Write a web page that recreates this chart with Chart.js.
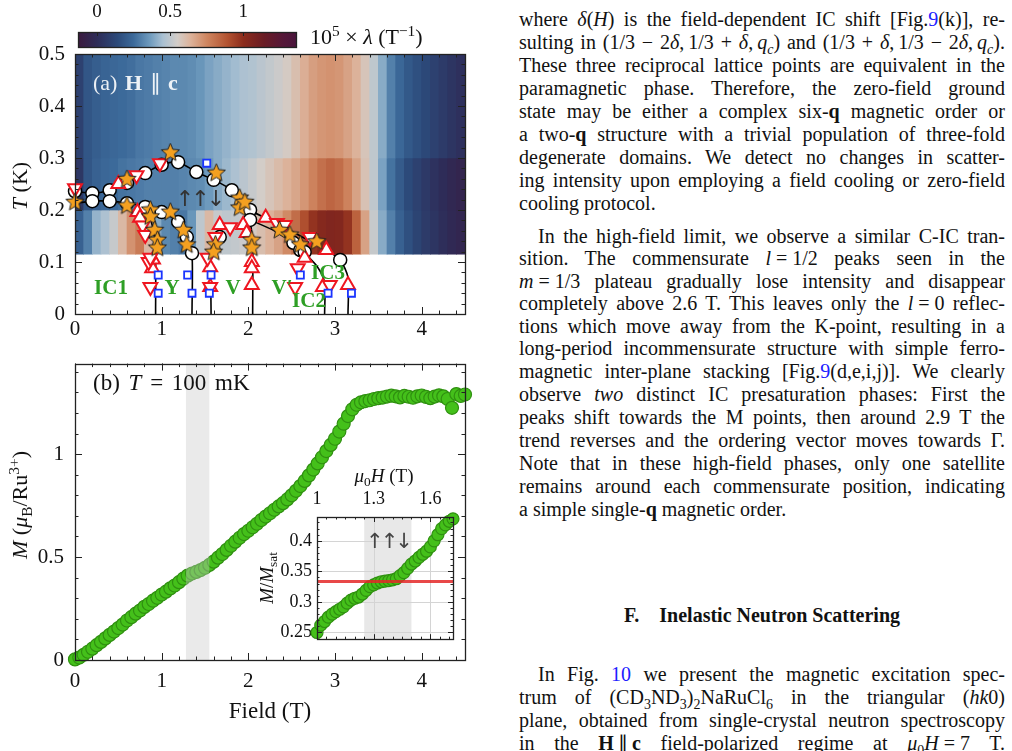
<!DOCTYPE html>
<html>
<head>
<meta charset="utf-8">
<script src="https://cdn.jsdelivr.net/npm/chart.js@4.4.1/dist/chart.umd.min.js"></script>
<style>
body { margin: 0; background: #fff; }
#page { position: relative; width: 1012px; height: 751px; overflow: hidden; font-family: "Liberation Serif", serif; color: #111; }
canvas { position: absolute; }
.lbl { position: absolute; white-space: nowrap; font-size: 22px; line-height: 1; transform: translate(-50%, -50%); }
.rot { transform: translate(-50%, -50%) rotate(-90deg); }
.left { transform: translate(0, -50%); }
.ph { color: #2e9f25; font-weight: bold; font-size: 21px; }
.arr { font-family: "DejaVu Sans", sans-serif; letter-spacing: -3px; }
.tx { position: absolute; left: 519px; width: 486px; height: 23px; line-height: 23px; font-size: 20px; white-space: nowrap; text-align: justify; text-align-last: justify; }
.tx.last { text-align: left; text-align-last: left; }
.tx.ind { left: 538px; width: 467px; }
.ln { color: #2020ff; }
sub, sup { font-size: 70%; line-height: 0; }
</style>
</head>
<body>
<div id="page">
  <canvas id="cBar" width="310" height="52" style="left:0;top:0"></canvas>
  <canvas id="cTop" width="480" height="345" style="left:0;top:0"></canvas>
  <canvas id="cBot" width="480" height="411" style="left:0;top:340px"></canvas>
  <canvas id="cIns" width="215" height="200" style="left:250px;top:455px"></canvas>

  <div class="lbl left" style="left:310px;top:37px">10<sup>5</sup> × <i>λ</i> (T<sup>−1</sup>)</div>
  <div class="lbl rot" style="left:20px;top:186px"><i>T</i> (K)</div>
  <div class="lbl left" style="left:93px;top:83px;color:rgba(255,255,255,0.9);word-spacing:2px">(a) <b>H</b> ∥ <b>c</b></div>
  <div class="lbl arr" style="left:199px;top:199px;font-size:22px;color:#333">↑↑↓</div>
  <div class="lbl ph" style="left:111px;top:287px">IC1</div>
  <div class="lbl ph" style="left:172px;top:287px">Y</div>
  <div class="lbl ph" style="left:233px;top:287px">V</div>
  <div class="lbl ph" style="left:282px;top:287px">V′</div>
  <div class="lbl ph" style="left:328px;top:272px">IC3</div>
  <div class="lbl ph" style="left:309px;top:300px">IC2</div>

  <div class="lbl rot" style="left:20px;top:505px"><i>M</i> (<i>μ</i><sub>B</sub>/Ru<sup>3+</sup>)</div>
  <div class="lbl left" style="left:93px;top:382px;font-size:23px;word-spacing:3px">(b) <i>T</i> = 100 mK</div>
  <div class="lbl" style="left:270px;top:710px;font-size:23px">Field (T)</div>
  <div class="lbl" style="left:384px;top:475px;font-size:19px"><i>μ</i><sub>0</sub><i>H</i> (T)</div>
  <div class="lbl rot" style="left:266px;top:578px;font-size:19px"><i>M</i>/<i>M</i><sub>sat</sub></div>
  <div class="lbl arr" style="left:388px;top:541px;font-size:21px;color:#444">↑↑↓</div>

  <div class="tx" style="top:8px">where <i>δ</i>(<i>H</i>) is the field-dependent IC shift [Fig.<span class="ln">9</span>(k)], re-</div>
  <div class="tx" style="top:31px">sulting in (1/3 − 2<i>δ</i>,&thinsp;1/3 + <i>δ</i>,&thinsp;<i>q<sub>c</sub></i>) and (1/3 + <i>δ</i>,&thinsp;1/3 − 2<i>δ</i>,&thinsp;<i>q<sub>c</sub></i>).</div>
  <div class="tx" style="top:54px">These three reciprocal lattice points are equivalent in the</div>
  <div class="tx" style="top:77px">paramagnetic phase. Therefore, the zero-field ground</div>
  <div class="tx" style="top:100px">state may be either a complex six-<b>q</b> magnetic order or</div>
  <div class="tx" style="top:123px">a two-<b>q</b> structure with a trivial population of three-fold</div>
  <div class="tx" style="top:146px">degenerate domains. We detect no changes in scatter-</div>
  <div class="tx" style="top:169px">ing intensity upon employing a field cooling or zero-field</div>
  <div class="tx last" style="top:192px">cooling protocol.</div>
  <div class="tx ind" style="top:225px">In the high-field limit, we observe a similar C-IC tran-</div>
  <div class="tx" style="top:247px">sition. The commensurate <i>l</i>&#8197;=&#8197;1/2 peaks seen in the</div>
  <div class="tx" style="top:270px"><i>m</i>&#8197;=&#8197;1/3 plateau gradually lose intensity and disappear</div>
  <div class="tx" style="top:292px">completely above 2.6 T. This leaves only the <i>l</i>&#8197;=&#8197;0 reflec-</div>
  <div class="tx" style="top:315px">tions which move away from the K-point, resulting in a</div>
  <div class="tx" style="top:337px">long-period incommensurate structure with simple ferro-</div>
  <div class="tx" style="top:360px">magnetic inter-plane stacking [Fig.<span class="ln">9</span>(d,e,i,j)]. We clearly</div>
  <div class="tx" style="top:383px">observe <i>two</i> distinct IC presaturation phases: First the</div>
  <div class="tx" style="top:406px">peaks shift towards the M points, then around 2.9 T the</div>
  <div class="tx" style="top:429px">trend reverses and the ordering vector moves towards Γ.</div>
  <div class="tx" style="top:452px">Note that in these high-field phases, only one satellite</div>
  <div class="tx" style="top:475px">remains around each commensurate position, indicating</div>
  <div class="tx last" style="top:498px">a simple single-<b>q</b> magnetic order.</div>
  <div class="lbl" style="left:762px;top:615px;font-size:20px;font-weight:bold">F.&emsp;Inelastic Neutron Scattering</div>
  <div class="tx ind" style="top:663px">In Fig. <span class="ln">10</span> we present the magnetic excitation spec-</div>
  <div class="tx" style="top:686px">trum of (CD<sub>3</sub>ND<sub>3</sub>)<sub>2</sub>NaRuCl<sub>6</sub> in the triangular (<i>hk</i>0)</div>
  <div class="tx" style="top:709px">plane, obtained from single-crystal neutron spectroscopy</div>
  <div class="tx" style="top:732px">in the <b>H</b>&#8201;∥&#8201;<b>c</b> field-polarized regime at <i>μ</i><sub>0</sub><i>H</i>&#8197;=&#8197;7 T.</div>
</div>

<script>
// ---- panel (a): lambda map, field bins x temperature rows ----
var fieldBins = [0.05, 0.15, 0.25, 0.35, 0.45, 0.55, 0.65, 0.75, 0.85, 0.95,
                 1.05, 1.15, 1.25, 1.35, 1.45, 1.55, 1.65, 1.75, 1.85, 1.95,
                 2.05, 2.15, 2.25, 2.35, 2.45, 2.55, 2.65, 2.75, 2.85, 2.95,
                 3.05, 3.15, 3.25, 3.35, 3.45, 3.55, 3.65, 3.75, 3.85, 3.95,
                 4.05, 4.15, 4.25, 4.35, 4.45];
var tempRows = [[0.115, 0.2], [0.2, 0.3], [0.3, 0.5]];
var lambdaLow = [0.22, 0.30, 0.42, 0.46, 0.52, 0.62, 0.72, 0.78, 0.62, 0.40,
                 0.32, 0.30, 0.28, 0.35, 0.50, 0.62, 0.52, 0.50, 0.51, 0.53,
                 0.56, 0.60, 0.64, 0.68, 0.74, 0.82, 0.90, 0.98, 1.03, 1.05,
                 1.04, 0.98, 0.85, 0.68, 0.52, 0.40, 0.30, 0.22, 0.16, 0.11,
                 0.07, 0.04, 0.01, -0.02, -0.04];
var lambdaMid = [0.05, 0.18, 0.22, 0.24, 0.25, 0.27, 0.28, 0.29, 0.30, 0.30,
                 0.30, 0.30, 0.31, 0.32, 0.33, 0.36, 0.40, 0.43, 0.46, 0.49,
                 0.52, 0.55, 0.58, 0.61, 0.64, 0.67, 0.71, 0.76, 0.81, 0.84,
                 0.82, 0.76, 0.68, 0.59, 0.50, 0.38, 0.27, 0.20, 0.14, 0.10,
                 0.06, 0.03, 0.00, -0.03, -0.05];
var lambdaHigh = [0.10, 0.18, 0.21, 0.23, 0.24, 0.25, 0.26, 0.28, 0.29, 0.30,
                  0.31, 0.32, 0.32, 0.33, 0.35, 0.38, 0.40, 0.42, 0.44, 0.46,
                  0.47, 0.49, 0.51, 0.53, 0.56, 0.60, 0.65, 0.69, 0.71, 0.72,
                  0.71, 0.68, 0.64, 0.58, 0.50, 0.40, 0.30, 0.24, 0.19, 0.16,
                  0.13, 0.10, 0.07, 0.04, 0.02];

// phase boundaries [field, T]
var lineUpper = [[0, 0.236], [0.2, 0.232], [0.4, 0.238], [0.6, 0.252], [0.81, 0.271], [1.0, 0.287], [1.19, 0.292],
                 [1.4, 0.273], [1.6, 0.258], [1.81, 0.238], [2.02, 0.2], [2.3, 0.177], [2.6, 0.15], [2.9, 0.123],
                 [3.06, 0.104], [3.15, 0.07], [3.15, 0]];
var lineLower = [[0, 0.213], [0.2, 0.217], [0.4, 0.217], [0.6, 0.213], [0.81, 0.206], [1.0, 0.196], [1.19, 0.177],
                 [1.29, 0.148], [1.35, 0.117], [1.35, 0]];
var lineIC1 = [[0.81, 0.206], [0.87, 0.183], [0.91, 0.155], [0.93, 0.125], [0.93, 0]];
var lineV1 = [[1.57, 0], [1.57, 0.12], [1.62, 0.148], [1.67, 0.165]];
var lineV2 = [[2.05, 0], [2.05, 0.14], [2.02, 0.181]];
var lineIC2 = [[2.02, 0.181], [2.3, 0.16], [2.52, 0.137], [2.65, 0.117], [2.8, 0.09], [2.88, 0.06], [2.88, 0]];

var circlePts = [[0, 0.236], [0.2, 0.232], [0.4, 0.238], [0.6, 0.252], [0.81, 0.271], [1.0, 0.287], [1.19, 0.292],
                 [1.4, 0.273], [1.6, 0.258], [1.81, 0.238], [2.02, 0.2], [2.02, 0.181], [0.2, 0.217], [0.4, 0.217],
                 [0.6, 0.213], [0.81, 0.206], [1.0, 0.196], [1.19, 0.177], [1.29, 0.148], [1.35, 0.117],
                 [1.67, 0.148], [2.52, 0.137], [2.6, 0.123], [2.65, 0.119], [3.06, 0.104]];
var starPts = [[0, 0.215], [0.6, 0.259], [1.1, 0.31], [1.63, 0.271], [0.6, 0.208], [0.87, 0.2], [0.87, 0.187],
               [1.1, 0.196], [1.9, 0.223], [1.9, 0.204], [1.96, 0.215], [0.92, 0.161], [0.95, 0.142], [0.95, 0.127],
               [1.25, 0.161], [1.29, 0.133], [1.62, 0.133], [1.6, 0.119], [2.04, 0.142], [2.04, 0.127],
               [2.36, 0.161], [2.48, 0.152], [2.79, 0.139], [2.6, 0.133]];
var triUpPts = [[0.5, 0.25], [0.72, 0.196], [0.75, 0.185], [0.89, 0.088], [0.9, 0.105], [1.67, 0.171], [1.94, 0.171],
                [1.98, 0.156], [1.56, 0.09], [1.56, 0.052], [2.04, 0.1], [2.04, 0.088], [2.04, 0.056], [2.2, 0.185],
                [2.9, 0.123], [2.65, 0.108], [2.86, 0.052], [3.15, 0.056]];
var triDownPts = [[0, 0.242], [0.71, 0.267], [0.98, 0.29], [0.78, 0.17], [0.81, 0.152], [0.85, 0.1], [0.87, 0.108],
                  [0.87, 0.052], [1.79, 0.167], [1.62, 0.148], [1.53, 0.108], [1.56, 0.052], [2.33, 0.175],
                  [2.42, 0.171], [2.71, 0.148], [2.57, 0.088], [2.54, 0.052], [2.94, 0.056]];
var squarePts = [[1.52, 0.29], [0.96, 0.075], [0.96, 0.04], [1.3, 0.075], [1.35, 0.04], [1.57, 0.075],
                 [1.55, 0.04], [2.6, 0.075], [2.92, 0.04], [3.19, 0.04]];

// ---- panel (b): magnetisation at 100 mK ----
var fieldM = [0.00, 0.05, 0.10, 0.15, 0.20, 0.25, 0.30, 0.35, 0.40, 0.45, 0.50, 0.55, 0.60, 0.65, 0.70, 0.75,
              0.80, 0.85, 0.90, 0.95, 1.00, 1.05, 1.10, 1.15, 1.20, 1.25, 1.30, 1.35, 1.40, 1.45, 1.50, 1.55,
              1.60, 1.65, 1.70, 1.75, 1.80, 1.85, 1.90, 1.95, 2.00, 2.05, 2.10, 2.15, 2.20, 2.25, 2.30, 2.35,
              2.40, 2.45, 2.50, 2.55, 2.60, 2.65, 2.70, 2.75, 2.80, 2.85, 2.90, 2.95, 3.00, 3.05, 3.10, 3.15,
              3.20, 3.25, 3.30, 3.35, 3.40, 3.45, 3.50, 3.55, 3.60, 3.65, 3.70, 3.75, 3.80, 3.85, 3.90, 3.95,
              4.00, 4.05, 4.10, 4.15, 4.20, 4.25, 4.30, 4.35, 4.40, 4.45, 4.50];
var magM = [0.003, 0.012, 0.025, 0.040, 0.055, 0.072, 0.088, 0.105, 0.122, 0.138, 0.155, 0.172, 0.192, 0.208, 0.225, 0.240,
            0.258, 0.272, 0.288, 0.302, 0.318, 0.332, 0.348, 0.362, 0.378, 0.395, 0.410, 0.420, 0.428, 0.437, 0.448, 0.462,
            0.478, 0.497, 0.515, 0.535, 0.555, 0.575, 0.594, 0.612, 0.628, 0.645, 0.662, 0.680, 0.697, 0.713, 0.730, 0.746,
            0.762, 0.780, 0.800, 0.822, 0.845, 0.870, 0.897, 0.925, 0.955, 0.985, 1.015, 1.045, 1.075, 1.110, 1.148, 1.185,
            1.218, 1.240, 1.252, 1.258, 1.262, 1.268, 1.272, 1.275, 1.280, 1.284, 1.281, 1.276, 1.283, 1.279, 1.274, 1.281,
            1.285, 1.278, 1.272, 1.280, 1.286, 1.281, 1.268, 1.225, 1.292, 1.283, 1.290];
var plateauBand = [1.28, 1.55];

// inset: M/Msat around the 1/3 plateau
var insetF = [1.00, 1.02, 1.04, 1.06, 1.08, 1.10, 1.12, 1.14, 1.16, 1.18, 1.20, 1.22, 1.24, 1.26, 1.28, 1.30, 1.32, 1.34, 1.36,
              1.38, 1.40, 1.42, 1.44, 1.46, 1.48, 1.50, 1.52, 1.54, 1.56, 1.58, 1.60, 1.62, 1.64, 1.66, 1.68, 1.70, 1.72];
var insetM = [0.250, 0.262, 0.268, 0.275, 0.280, 0.284, 0.288, 0.292, 0.298, 0.303, 0.306, 0.308, 0.313, 0.319, 0.325, 0.328,
              0.331, 0.333, 0.334, 0.335, 0.336, 0.338, 0.343, 0.348, 0.355, 0.362, 0.367, 0.373, 0.378, 0.383, 0.390,
              0.400, 0.410, 0.420, 0.426, 0.432, 0.436];
var insetBand = [1.25, 1.5];
var thirdLine = [1 / 3, 1 / 3];

// tick labels
var fieldTicks = [0, 1, 2, 3, 4];
var tempTicks = [0, 0.1, 0.2, 0.3, 0.4, 0.5];
var magTicks = [0, 0.5, 1];
var insetFieldTicks = [1, 1.3, 1.6];
var insetMTicks = [0.25, 0.3, 0.35, 0.4];
var lambdaTicks = [0, 0.5, 1];

// colour map of the lambda scale
var cmapStops = [[-0.13, '#3b1a3e'], [0, '#2e2c58'], [0.14, '#2c4a7a'], [0.25, '#3c6a9a'], [0.36, '#6e9abd'],
                 [0.45, '#a9c0d2'], [0.55, '#d3cdc8'], [0.64, '#dcb29a'], [0.75, '#cf8660'], [0.89, '#b35331'],
                 [1.0, '#8c2c1c'], [1.14, '#6a1c24'], [1.27, '#551738'], [1.36, '#4a153c']];

function hexRgb(h) {
    return [parseInt(h.substr(1, 2), 16), parseInt(h.substr(3, 2), 16), parseInt(h.substr(5, 2), 16)];
}
function lambdaColor(v) {
    if (v <= cmapStops[0][0]) return cmapStops[0][1];
    for (var i = 1; i < cmapStops.length; i++) {
        if (v <= cmapStops[i][0]) {
            var a = cmapStops[i - 1], b = cmapStops[i];
            var t = (v - a[0]) / (b[0] - a[0]);
            var ca = hexRgb(a[1]), cb = hexRgb(b[1]);
            return 'rgb(' + ca.map(function (c, k) { return Math.round(c + (cb[k] - c) * t); }).join(',') + ')';
        }
    }
    return cmapStops[cmapStops.length - 1][1];
}

function pts(arr) { return arr.map(function (p) { return { x: p[0], y: p[1] }; }); }
function zip(xs, ys) { return xs.map(function (x, i) { return { x: x, y: ys[i] }; }); }
function setTicks(list) { return function (s) { s.ticks = list.map(function (v) { return { value: v }; }); }; }
function plainLabel(v) { return String(+v); }

var heatCells = [];
[lambdaLow, lambdaMid, lambdaHigh].forEach(function (row, r) {
    row.forEach(function (l, i) { heatCells.push({ x: fieldBins[i], y: tempRows[r], l: l }); });
});

//estrella rellena para los marcadores
function makeStar(r) {
    var c = document.createElement('canvas');
    var s = Math.ceil(r * 2 + 4);
    c.width = s; c.height = s;
    var g = c.getContext('2d');
    g.beginPath();
    for (var i = 0; i < 10; i++) {
        var rr = i % 2 ? r * 0.45 : r;
        var a = -Math.PI / 2 + i * Math.PI / 5;
        g.lineTo(s / 2 + rr * Math.cos(a), s / 2 + rr * Math.sin(a));
    }
    g.closePath();
    g.fillStyle = '#f4a020';
    g.fill();
    g.strokeStyle = '#222';
    g.lineWidth = 1;
    g.stroke();
    return c;
}
var starImg = makeStar(9.5);

// frame with inward ticks, bands, grid
var framePlugin = {
    id: 'frame',
    beforeDraw: function (chart, args, o) {
        var a = chart.chartArea, ctx = chart.ctx;
        if (o.fill) {
            ctx.save();
            ctx.fillStyle = o.fill;
            ctx.fillRect(a.left, a.top, a.right - a.left, a.bottom - a.top);
            ctx.restore();
        }
    },
    beforeDatasetsDraw: function (chart, args, o) {
        var ctx = chart.ctx, a = chart.chartArea, x = chart.scales.x, y = chart.scales.y;
        ctx.save();
        if (o.gradient) {
            var g = ctx.createLinearGradient(a.left, 0, a.right, 0);
            cmapStops.forEach(function (s) {
                var f = (x.getPixelForValue(s[0]) - a.left) / (a.right - a.left);
                g.addColorStop(Math.min(1, Math.max(0, f)), s[1]);
            });
            ctx.fillStyle = g;
            ctx.fillRect(a.left, a.top, a.right - a.left, a.bottom - a.top);
        }
        if (o.band && !o.bandOnTop) {
            var x0 = x.getPixelForValue(o.band[0]), x1 = x.getPixelForValue(o.band[1]);
            ctx.fillStyle = '#e8e8e8';
            ctx.fillRect(x0, a.top, x1 - x0, a.bottom - a.top);
        }
        if (o.grid) {
            ctx.strokeStyle = '#d4d4d4';
            ctx.lineWidth = 1;
            ctx.beginPath();
            x.ticks.forEach(function (t) {
                var p = Math.round(x.getPixelForValue(t.value)) + 0.5;
                ctx.moveTo(p, a.top); ctx.lineTo(p, a.bottom);
            });
            y.ticks.forEach(function (t) {
                var p = Math.round(y.getPixelForValue(t.value)) + 0.5;
                ctx.moveTo(a.left, p); ctx.lineTo(a.right, p);
            });
            ctx.stroke();
        }
        ctx.restore();
    },
    afterDatasetsDraw: function (chart, args, o) {
        var ctx = chart.ctx, a = chart.chartArea, x = chart.scales.x, y = chart.scales.y;
        ctx.save();
        if (o.band && o.bandOnTop) {
            var x0 = x.getPixelForValue(o.band[0]), x1 = x.getPixelForValue(o.band[1]);
            ctx.fillStyle = 'rgba(200,200,200,0.38)';
            ctx.fillRect(x0, a.top, x1 - x0, a.bottom - a.top);
        }
        ctx.strokeStyle = '#222';
        ctx.lineWidth = 1;
        var L = o.major || 7, l = o.minor || 3.5;
        ctx.beginPath();
        function xTick(v, len) {
            var p = Math.round(x.getPixelForValue(v)) + 0.5;
            ctx.moveTo(p, a.top); ctx.lineTo(p, a.top + len);
            if (!o.topOnly) { ctx.moveTo(p, a.bottom); ctx.lineTo(p, a.bottom - len); }
        }
        function yTick(v, len) {
            var p = Math.round(y.getPixelForValue(v)) + 0.5;
            ctx.moveTo(a.left, p); ctx.lineTo(a.left + len, p);
            ctx.moveTo(a.right, p); ctx.lineTo(a.right - len, p);
        }
        x.ticks.forEach(function (t) { xTick(t.value, L); });
        if (o.xMinor) {
            for (var k = Math.ceil(x.min / o.xMinor - 1e-9); k * o.xMinor <= x.max + 1e-9; k++) xTick(k * o.xMinor, l);
        }
        if (!o.topOnly) {
            y.ticks.forEach(function (t) { yTick(t.value, L); });
            if (o.yMinor) {
                for (var j = Math.ceil(y.min / o.yMinor - 1e-9); j * o.yMinor <= y.max + 1e-9; j++) yTick(j * o.yMinor, l);
            }
        }
        ctx.stroke();
        ctx.lineWidth = 1.3;
        ctx.strokeRect(Math.round(a.left) + 0.5, Math.round(a.top) + 0.5, Math.round(a.right - a.left), Math.round(a.bottom - a.top));
        ctx.restore();
    }
};

Chart.defaults.font.family = "'Liberation Serif', 'DejaVu Serif', serif";
Chart.defaults.color = '#111';
Chart.defaults.animation = false;
Chart.defaults.plugins.legend.display = false;
Chart.defaults.plugins.tooltip.enabled = false;

function axis(extra) {
    var base = { type: 'linear', offset: false, grid: { display: false, drawTicks: false, offset: false }, border: { display: false } };
    for (var k in extra) base[k] = extra[k];
    base.ticks.callback = plainLabel;
    return base;
}

// colour bar
new Chart(document.getElementById('cBar'), {
    type: 'scatter',
    data: { datasets: [] },
    options: {
        responsive: false,
        layout: { padding: { left: 78, right: 14, bottom: 5, top: 0 } },
        scales: {
            x: axis({ position: 'top', min: -0.13, max: 1.36, afterBuildTicks: setTicks(lambdaTicks),
                      ticks: { padding: 9, font: { size: 19 } }, afterFit: function (s) { s.height = 32; } }),
            y: { display: false, min: 0, max: 1 }
        },
        plugins: { frame: { gradient: true, topOnly: true, major: 4 } }
    },
    plugins: [framePlugin]
});

// panel (a)
var boundaries = [lineUpper, lineLower, lineIC1, lineV1, lineV2, lineIC2];
var topSets = [
    { data: pts(squarePts), pointStyle: 'rect', pointRadius: 5, backgroundColor: '#fff', borderColor: '#1a35ff', borderWidth: 1.8, clip: false },
    { data: pts(starPts), pointStyle: starImg, pointRadius: 9, clip: false },
    { data: pts(triDownPts), pointStyle: 'triangle', pointRotation: 180, pointRadius: 8, backgroundColor: '#fff', borderColor: '#ee1620', borderWidth: 2, clip: false },
    { data: pts(triUpPts), pointStyle: 'triangle', pointRadius: 8, backgroundColor: '#fff', borderColor: '#ee1620', borderWidth: 2, clip: false },
    { data: pts(circlePts), pointStyle: 'circle', pointRadius: 6.5, backgroundColor: '#fff', borderColor: '#000', borderWidth: 1.5, clip: false }
];
boundaries.forEach(function (b) {
    topSets.push({ data: pts(b), showLine: true, pointRadius: 0, borderColor: '#000', borderWidth: 1.6, tension: 0.25, clip: false });
});
topSets.push({
    type: 'bar', data: heatCells, borderWidth: 0, barPercentage: 1, categoryPercentage: 1,
    backgroundColor: function (c) { return c.raw ? lambdaColor(c.raw.l) : '#888'; }
});

new Chart(document.getElementById('cTop'), {
    type: 'scatter',
    data: { datasets: topSets },
    options: {
        responsive: false,
        layout: { padding: { top: 54, right: 15, left: 0, bottom: 0 } },
        scales: {
            x: axis({ min: 0, max: 4.5, afterBuildTicks: setTicks(fieldTicks), ticks: { padding: 3, font: { size: 21 } },
                      afterFit: function (s) { s.height = 31; } }),
            y: axis({ min: 0, max: 0.5, afterBuildTicks: setTicks(tempTicks), ticks: { padding: 10, font: { size: 21 } },
                      afterFit: function (s) { s.width = 75; } })
        },
        plugins: { frame: { xMinor: 0.2, yMinor: 0.02 } }
    },
    plugins: [framePlugin]
});

// panel (b)
new Chart(document.getElementById('cBot'), {
    type: 'scatter',
    data: { datasets: [{ data: zip(fieldM, magM), pointRadius: 6.5, backgroundColor: '#44c01a', borderColor: '#2f9010', borderWidth: 1.2, clip: false }] },
    options: {
        responsive: false,
        layout: { padding: { top: 12, right: 15, left: 0, bottom: 0 } },
        scales: {
            x: axis({ min: 0, max: 4.5, afterBuildTicks: setTicks(fieldTicks), ticks: { padding: 9, font: { size: 21 } },
                      afterFit: function (s) { s.height = 91; } }),
            y: axis({ min: 0, max: 1.44, afterBuildTicks: setTicks(magTicks), ticks: { padding: 11, font: { size: 21 } },
                      afterFit: function (s) { s.width = 75; } })
        },
        plugins: { frame: { xMinor: 0.2, yMinor: 0.1, band: plateauBand, bandOnTop: true } }
    },
    plugins: [framePlugin]
});

// inset
new Chart(document.getElementById('cIns'), {
    type: 'scatter',
    data: { datasets: [
        { data: [{ x: 1, y: thirdLine[0] }, { x: 1.72, y: thirdLine[1] }], showLine: true, pointRadius: 0, borderColor: 'rgba(228,40,40,0.85)', borderWidth: 3 },
        { data: zip(insetF, insetM), pointRadius: 6, backgroundColor: '#44c01a', borderColor: '#2f9010', borderWidth: 1.2, clip: false }
    ] },
    options: {
        responsive: false,
        layout: { padding: { top: 0, right: 12, left: 0, bottom: 5 } },
        scales: {
            x: axis({ position: 'top', min: 1, max: 1.72, afterBuildTicks: setTicks(insetFieldTicks), ticks: { padding: 7, font: { size: 18 } },
                      afterFit: function (s) { s.height = 62; } }),
            y: axis({ min: 0.239, max: 0.439, afterBuildTicks: setTicks(insetMTicks), ticks: { padding: 5, font: { size: 18 } },
                      afterFit: function (s) { s.width = 67; } })
        },
        plugins: { frame: { fill: '#fff', grid: true, band: insetBand, xMinor: 0.05, yMinor: 0.01, major: 5, minor: 2.5 } }
    },
    plugins: [framePlugin]
});
</script>
</body>
</html>
